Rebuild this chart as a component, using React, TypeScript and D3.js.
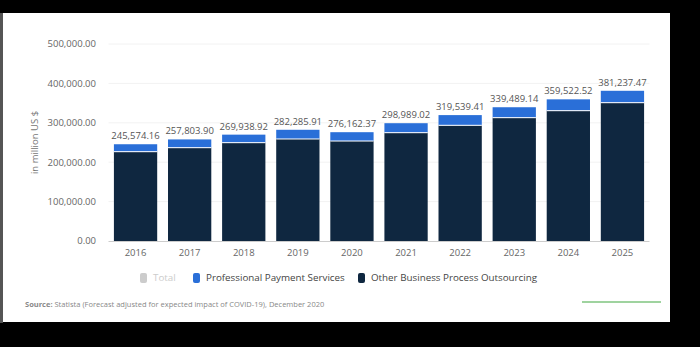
import React from "react";
import * as d3 from "d3";

const years = ["2016", "2017", "2018", "2019", "2020", "2021", "2022", "2023", "2024", "2025"];
const totals = [245574.16, 257803.9, 269938.92, 282285.91, 276162.37, 298989.02, 319539.41, 339489.14, 359522.52, 381237.47];
const paymentServices = [18900, 21000, 20400, 23400, 22400, 24100, 25900, 26500, 28800, 30200];
const yTicks = [0, 100000, 200000, 300000, 400000, 500000];
const legendItems = ["Total", "Professional Payment Services", "Other Business Process Outsourcing"];

const W = 700;
const H = 347;
const FONT = "'Open Sans', sans-serif";
const DARK = "#0f2740";
const BLUE = "#2a6fd8";

export default function App() {
  const x = d3.scaleBand<string>().domain(years).range([108.5, 649.5]).paddingInner(0.2).paddingOuter(0.1);
  const y = d3.scaleLinear().domain([0, 500000]).range([241, 44]);
  const fmt = d3.format(",.2f");
  const other = totals.map((t, i) => t - paymentServices[i]);

  return (
    <svg width={W} height={H} style={{ position: "absolute", left: 0, top: 0, display: "block" }} fontFamily={FONT}>
      <rect x={0} y={0} width={W} height={H} fill="#000" />
      <rect x={0} y={13} width={3} height={310} fill="#555" />
      <rect x={3} y={13} width={667} height={309} fill="#fff" />

      {yTicks.map((t) => (
        <g key={t}>
          {t > 0 && <line x1={108.5} x2={649.5} y1={y(t)} y2={y(t)} stroke="#f2f2f2" strokeWidth={1} />}
          <text x={96} y={y(t)} dy="0.35em" textAnchor="end" fontSize={9.5} fill="#666">
            {fmt(t)}
          </text>
        </g>
      ))}

      <text transform={`translate(35,${(y(0) + y(500000)) / 2}) rotate(-90)`} textAnchor="middle" dy="0.35em" fontSize={9.5} fill="#777">
        in million US $
      </text>

      {years.map((yr, i) => {
        const bx = x(yr)!;
        const bw = x.bandwidth();
        return (
          <g key={yr}>
            <rect x={bx} y={y(other[i])} width={bw} height={y(0) - y(other[i])} fill={DARK} />
            <rect x={bx} y={y(totals[i])} width={bw} height={y(other[i]) - y(totals[i])} fill={BLUE} />
            <line x1={bx} x2={bx + bw} y1={y(other[i])} y2={y(other[i])} stroke="#fff" strokeWidth={1} />
            <text x={bx + bw / 2} y={y(totals[i]) - 5} textAnchor="middle" fontSize={9.5} fill="#555">
              {fmt(totals[i])}
            </text>
            <text x={bx + bw / 2} y={253} dy="0.35em" textAnchor="middle" fontSize={9.5} fill="#666">
              {yr}
            </text>
          </g>
        );
      })}

      <line x1={108.5} x2={649.5} y1={241.5} y2={241.5} stroke="#ccc" strokeWidth={1} />

      {(() => {
        const xs = [140, 193, 358];
        const cols = ["#cccccc", BLUE, DARK];
        const tcols = ["#cccccc", "#444", "#444"];
        return legendItems.map((l, i) => (
          <g key={l}>
            <rect x={xs[i]} y={273} width={7} height={10} rx={2} fill={cols[i]} />
            <text x={xs[i] + 13} y={278} dy="0.35em" fontSize={9.8} fill={tcols[i]}>
              {l}
            </text>
          </g>
        ));
      })()}

      <text x={25} y={304} dy="0.35em" fontSize={7.5} fill="#888">
        <tspan fontWeight="bold">Source:</tspan> Statista (Forecast adjusted for expected impact of COVID-19), December 2020
      </text>

      <line x1={582} x2={661} y1={302} y2={302} stroke="#9fd39f" strokeWidth={2} />
    </svg>
  );
}
